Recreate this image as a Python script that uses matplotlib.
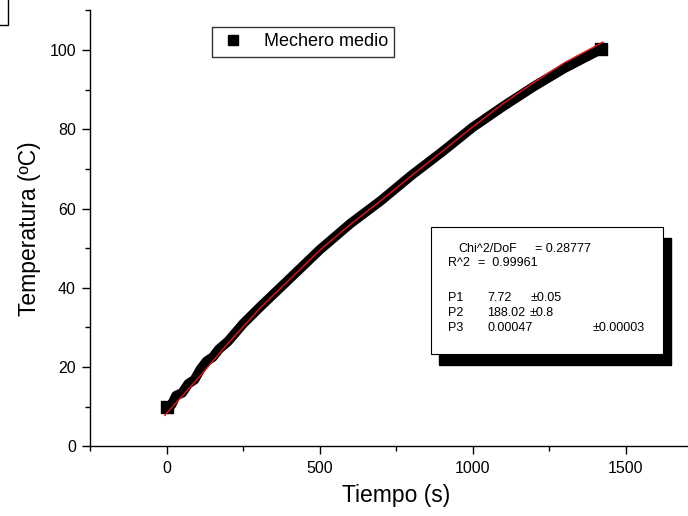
import matplotlib
matplotlib.use('Agg')
import matplotlib.pyplot as plt
from matplotlib.patches import Rectangle
from matplotlib.ticker import MultipleLocator

plt.rcParams['font.family'] = ['Liberation Sans', 'DejaVu Sans']

tiempo = [0, 15, 30, 50, 70, 90, 110, 130, 150, 170, 200, 250, 305, 400, 500,
          600, 700, 800, 900, 1000, 1100, 1200, 1300, 1380, 1420]
temperatura = [10.0, 10.5, 12.8, 13.5, 15.8, 16.8, 19.5, 21.5, 22.5, 24.5, 26.5,
               31.0, 35.2, 42.2, 49.6, 56.2, 62.0, 68.4, 74.3, 80.5, 85.8, 90.8,
               95.4, 98.6, 100.2]

# fitted curve
t_fit = [-7, 100, 200, 305, 400, 500, 600, 700, 800, 900, 1000, 1100, 1200,
         1300, 1426]
T_fit = [7.8, 17.0, 26.0, 34.9, 42.0, 49.5, 56.0, 62.0, 68.3, 74.4, 80.6, 86.5,
         91.8, 96.8, 102.0]

serie = 'Mechero medio'
fit_lines = [('Chi^2/DoF', '= 0.28777', ''),
             ('R^2', '=  0.99961', ''),
             ('P1', '7.72', '\u00b10.05'),
             ('P2', '188.02', '\u00b10.8'),
             ('P3', '0.00047', '\u00b10.00003')]

fig = plt.figure(figsize=(6.88, 5.16), dpi=100)
ax = fig.add_axes([0.1315, 0.135, 0.889, 0.845])

ax.plot(tiempo, temperatura, color='black', lw=7, marker='s', ms=9,
        markevery=[0, len(tiempo) - 1], solid_capstyle='butt', label=serie)
ax.plot(t_fit, T_fit, color='#e8141b', lw=1.0)

ax.set_xlim(-250, 1750)
ax.set_ylim(0, 110)
ax.xaxis.set_major_locator(MultipleLocator(500))
ax.xaxis.set_minor_locator(MultipleLocator(250))
ax.yaxis.set_major_locator(MultipleLocator(20))
ax.yaxis.set_minor_locator(MultipleLocator(10))
ax.tick_params(which='major', direction='out', length=5.5, width=1,
               labelsize=11.5, pad=5)
ax.tick_params(which='minor', direction='out', length=3.5, width=1)
ax.spines['top'].set_visible(False)
ax.spines['right'].set_visible(False)
for s in ['left', 'bottom']:
    ax.spines[s].set_linewidth(1.0)

ax.set_xlabel('Tiempo (s)', fontsize=16.5, labelpad=6)
ax.set_ylabel('Temperatura (\u00baC)', fontsize=16.5, labelpad=6)

# legend with square marker only
h = plt.Line2D([], [], color='black', marker='s', ls='none', ms=7)
leg = ax.legend([h], [serie], loc='upper left', bbox_to_anchor=(0.199, 0.962),
                borderaxespad=0, fontsize=13, frameon=True, fancybox=False,
                handletextpad=0.9, borderpad=0.35, handlelength=1.6)
leg.get_frame().set_edgecolor('black')
leg.get_frame().set_linewidth(1.0)

# fit results box with shadow
W, H = 688, 516
def fx(px):
    return px / W
def fy(py):
    return (H - py) / H

x0, y0, x1, y1 = 431, 227, 663, 354
fig.patches.append(Rectangle((fx(x0 + 8), fy(y1 + 11)), fx(x1 - x0), (y1 - y0) / H,
                             transform=fig.transFigure, facecolor='black',
                             edgecolor='black', zorder=5))
fig.patches.append(Rectangle((fx(x0), fy(y1)), fx(x1 - x0), (y1 - y0) / H,
                             transform=fig.transFigure, facecolor='white',
                             edgecolor='black', lw=0.8, zorder=6))

fs = 9
row_y = [249, 263, 298, 313, 328]
col_a = [458, 448, 448, 448, 448]
col_b = [535, 478, 487, 487, 487]
col_c = [0, 0, 531, 530, 593]
for (a, b, c), yy, xa, xb, xc in zip(fit_lines, row_y, col_a, col_b, col_c):
    fig.text(fx(xa), fy(yy), a, fontsize=fs, va='center', zorder=7)
    fig.text(fx(xb), fy(yy), b, fontsize=fs, va='center', zorder=7)
    if c:
        fig.text(fx(xc), fy(yy), c, fontsize=fs, va='center', zorder=7)

# fragment of a box in the top-left corner
fig.patches.append(Rectangle((-0.01, fy(25)), fx(8) + 0.01, 0.1,
                             transform=fig.transFigure, facecolor='white',
                             edgecolor='black', lw=1.0))

fig.savefig('out.png', dpi=100)
